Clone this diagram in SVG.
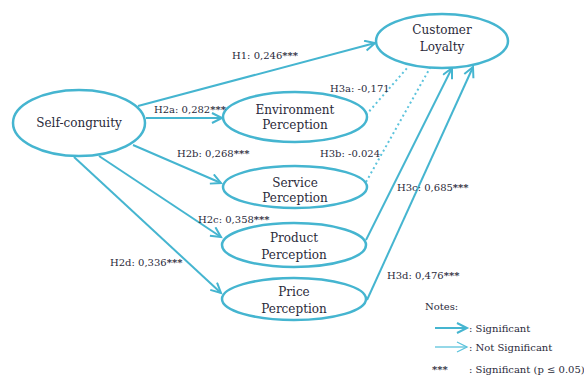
<svg xmlns="http://www.w3.org/2000/svg" width="584" height="378" viewBox="0 0 584 378">
<style>
.node{fill:#fff;stroke:#45b5d0;stroke-width:2.5}
.lbl{font-family:'DejaVu Serif','Liberation Serif',serif;font-size:12px;fill:#2a2a3a;text-anchor:middle}
.el{font-family:'DejaVu Serif','Liberation Serif',serif;font-size:10px;fill:#2a2a3a}
.st{font-weight:bold}
.sig{fill:none;stroke:#45b5d0;stroke-width:2}
.ns{fill:none;stroke:#5cc3dc;stroke-width:2;stroke-dasharray:2 3}
</style>
<defs>
<marker id="ah" markerUnits="userSpaceOnUse" markerWidth="14" markerHeight="14" refX="11" refY="6" orient="auto">
<path d="M1,1 L11,6 L1,11" fill="none" stroke="#45b5d0" stroke-width="2"/>
</marker>
<marker id="ah2" markerUnits="userSpaceOnUse" markerWidth="14" markerHeight="14" refX="11" refY="6" orient="auto">
<path d="M1,1 L11,6 L1,11" fill="none" stroke="#5cc3dc" stroke-width="1.3"/>
</marker>
</defs>
<rect width="584" height="378" fill="#fff"/>
<g id="connectors">
<line class="sig" x1="138" y1="106" x2="375" y2="43" marker-end="url(#ah)"/>
<line class="sig" x1="146" y1="118" x2="222" y2="118" marker-end="url(#ah)"/>
<line class="sig" x1="133" y1="145" x2="221" y2="183" marker-end="url(#ah)"/>
<line class="sig" x1="99" y1="156" x2="221" y2="237" marker-end="url(#ah)"/>
<line class="sig" x1="74" y1="157" x2="221" y2="293" marker-end="url(#ah)"/>
<line class="ns" x1="366" y1="115" x2="408" y2="67"/>
<line class="ns" x1="366" y1="182" x2="430" y2="68"/>
<line class="sig" x1="366" y1="240" x2="452" y2="68" marker-end="url(#ah)"/>
<line class="sig" x1="367" y1="300" x2="473" y2="67" marker-end="url(#ah)"/>
</g>
<g id="self-congruity">
<ellipse class="node" cx="79" cy="123" rx="66" ry="33"/>
<text class="lbl" x="79" y="127">Self-congruity</text>
</g>
<g id="customer-loyalty">
<ellipse class="node" cx="442" cy="41" rx="66" ry="27"/>
<text class="lbl" x="442" y="34">Customer</text>
<text class="lbl" x="442" y="51">Loyalty</text>
</g>
<g id="environment-perception">
<ellipse class="node" cx="295" cy="117" rx="72" ry="25"/>
<text class="lbl" x="295" y="114">Environment</text>
<text class="lbl" x="295" y="129">Perception</text>
</g>
<g id="service-perception">
<ellipse class="node" cx="295" cy="187" rx="72" ry="21"/>
<text class="lbl" x="295" y="187">Service</text>
<text class="lbl" x="295" y="202">Perception</text>
</g>
<g id="product-perception">
<ellipse class="node" cx="294" cy="245" rx="72" ry="22"/>
<text class="lbl" x="294" y="242">Product</text>
<text class="lbl" x="294" y="259">Perception</text>
</g>
<g id="price-perception">
<ellipse class="node" cx="294" cy="299" rx="72" ry="21"/>
<text class="lbl" x="294" y="296">Price</text>
<text class="lbl" x="294" y="313">Perception</text>
</g>
<g id="edge-labels">
<text class="el" x="232" y="59">H1: 0,246<tspan class="st">***</tspan></text>
<text class="el" x="154" y="113">H2a: 0,282<tspan class="st">***</tspan></text>
<text class="el" x="177" y="157">H2b: 0,268<tspan class="st">***</tspan></text>
<text class="el" x="198" y="223">H2c: 0,358<tspan class="st">***</tspan></text>
<text class="el" x="110" y="266">H2d: 0,336<tspan class="st">***</tspan></text>
<text class="el" x="330" y="92">H3a: -0,171</text>
<text class="el" x="320" y="157">H3b: -0.024</text>
<text class="el" x="397" y="191">H3c: 0,685<tspan class="st">***</tspan></text>
<text class="el" x="387" y="279">H3d: 0,476<tspan class="st">***</tspan></text>
</g>
<g id="notes">
<text class="el" x="425" y="310">Notes:</text>
<line x1="435" y1="328" x2="467" y2="328" stroke="#45b5d0" stroke-width="2" marker-end="url(#ah)"/>
<text class="el" x="469" y="332">: Significant</text>
<line x1="435" y1="347" x2="467" y2="347" stroke="#5cc3dc" stroke-width="1.3" marker-end="url(#ah2)"/>
<text class="el" x="469" y="351">: Not Significant</text>
<text class="el st" x="432" y="373">***</text>
<text class="el" x="469" y="373">: Significant (p ≤ 0.05)</text>
</g>
</svg>
